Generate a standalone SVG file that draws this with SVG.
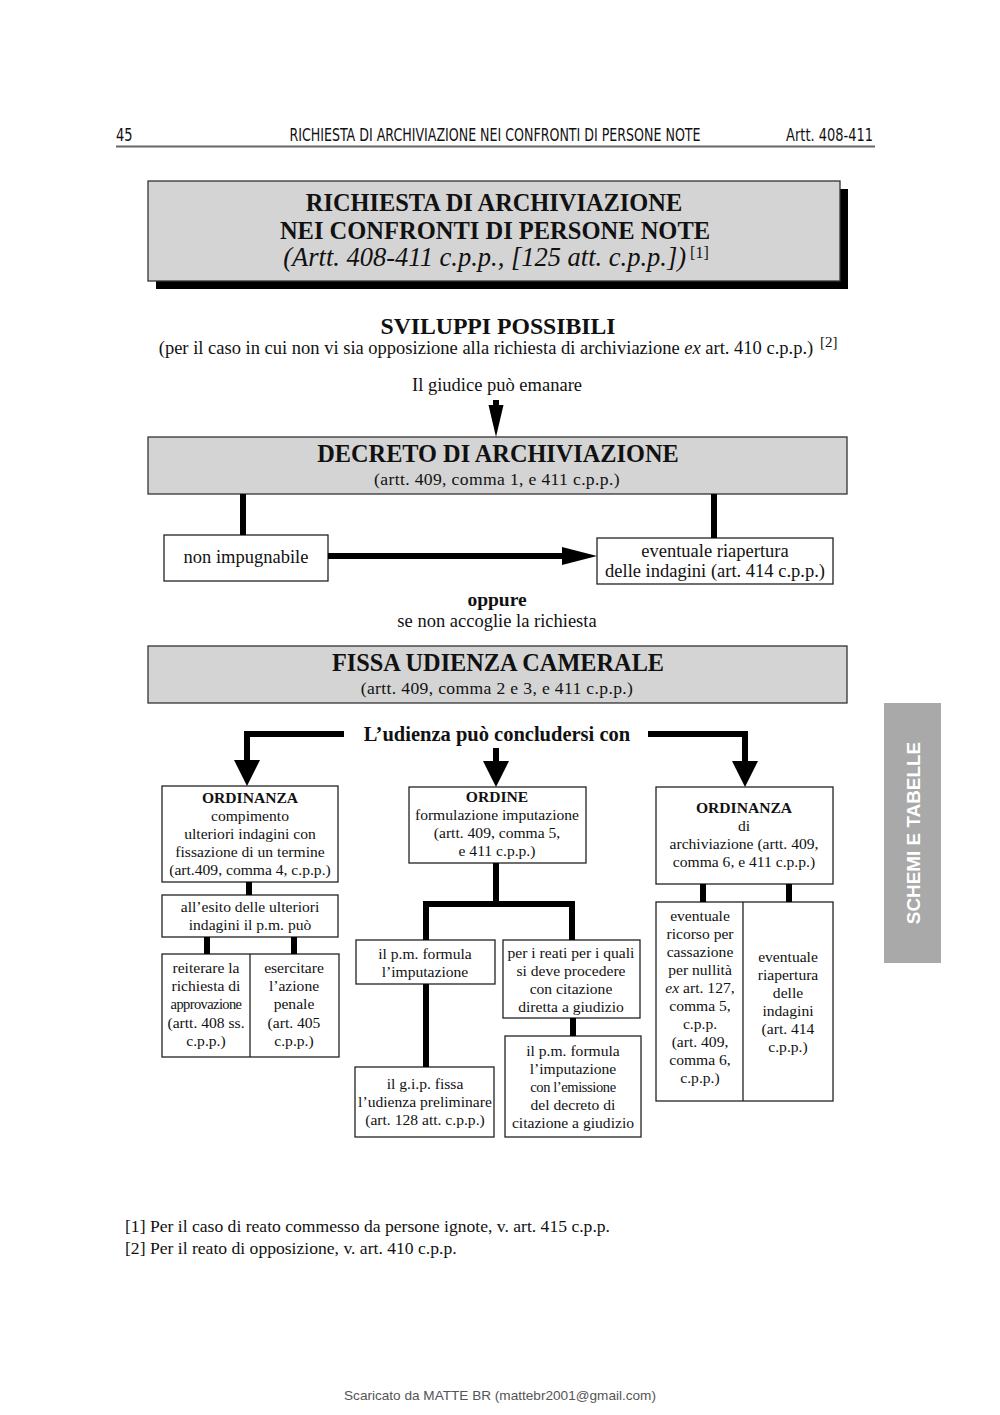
<svg xmlns="http://www.w3.org/2000/svg" width="1000" height="1415" viewBox="0 0 1000 1415">
<style>
.s{font-family:"Liberation Serif","DejaVu Serif",serif;fill:#111}
.t{font-size:15.6px}
.m{font-size:18.5px}
.sub{font-size:17.6px;letter-spacing:0.35px}
.c{text-anchor:middle}
.b{font-weight:bold}
.h{font-size:24.3px;font-weight:bold}
.box{fill:#fff;stroke:#222;stroke-width:1.3}
.gbox{fill:#d4d4d4;stroke:#333;stroke-width:1.3}
.ln{stroke:#000;stroke-width:6;fill:none}
.ah{fill:#000}
.hd{font-family:"DejaVu Sans Condensed","DejaVu Sans",sans-serif;font-stretch:condensed;font-size:17px;fill:#111}
</style>
<rect width="1000" height="1415" fill="#fff"/>
<g id="header">
<text class="hd" x="116" y="141" transform="translate(116 141) scale(0.85 1) translate(-116 -141)">45</text>
<text class="hd c" x="495" y="141" transform="translate(495 141) scale(0.826 1) translate(-495 -141)">RICHIESTA DI ARCHIVIAZIONE NEI CONFRONTI DI PERSONE NOTE</text>
<text class="hd" x="873" y="141" text-anchor="end" transform="translate(873 141) scale(0.85 1) translate(-873 -141)">Artt. 408-411</text>
<line x1="116" y1="146.5" x2="875" y2="146.5" stroke="#666" stroke-width="2"/>
</g>
<g id="title">
<rect x="156" y="189" width="692" height="100" fill="#000"/>
<rect x="148" y="181" width="692" height="100" class="gbox"/>
<text class="s c b" x="494" y="211" font-size="24.4">RICHIESTA DI ARCHIVIAZIONE</text>
<text class="s c b" x="495" y="239" font-size="24.5">NEI CONFRONTI DI PERSONE NOTE</text>
<text class="s c" x="496" y="266" font-size="26.5" font-style="italic">(Artt. 408-411 c.p.p., [125 att. c.p.p.])<tspan font-style="normal" font-size="16" dy="-8"> [1]</tspan></text>
</g>
<g id="sviluppi">
<text class="s c b" x="498" y="334" font-size="23.7">SVILUPPI POSSIBILI</text>
<text class="s c m" x="486" y="354">(per il caso in cui non vi sia opposizione alla richiesta di archiviazione <tspan font-style="italic">ex</tspan> art. 410 c.p.p.)</text>
<text class="s" x="820" y="347" font-size="15">[2]</text>
<text class="s c m" x="497" y="391">Il giudice può emanare</text>
</g>
<g id="decreto">
<rect x="148" y="437" width="699" height="57" class="gbox"/>
<text class="s c h" x="498" y="462">DECRETO DI ARCHIVIAZIONE</text>
<text class="s c sub" x="497" y="485">(artt. 409, comma 1, e 411 c.p.p.)</text>
</g>
<g id="non-impugnabile">
<rect x="164" y="535" width="164" height="46" class="box"/>
<text class="s c m" x="246" y="563">non impugnabile</text>
</g>
<g id="riapertura">
<rect x="597" y="538" width="236" height="46" class="box"/>
<text class="s c m" x="715" y="557">eventuale riapertura</text>
<text class="s c m" x="715" y="577">delle indagini (art. 414 c.p.p.)</text>
</g>
<g id="oppure">
<text class="s c b" x="497" y="606" font-size="19.5">oppure</text>
<text class="s c m" x="497" y="627">se non accoglie la richiesta</text>
</g>
<g id="fissa">
<rect x="148" y="646" width="699" height="57" class="gbox"/>
<text class="s c h" x="498" y="671">FISSA UDIENZA CAMERALE</text>
<text class="s c sub" x="497" y="694">(artt. 409, comma 2 e 3, e 411 c.p.p.)</text>
</g>
<g id="udienza-label">
<text class="s c b" x="497" y="741" font-size="20.5">L’udienza può concludersi con</text>
</g>
<g id="ordinanza-indagini">
<rect x="162" y="786" width="176" height="96" class="box"/>
<text class="s c b" x="250" y="803" font-size="15.6">ORDINANZA</text>
<text class="s c t" x="250" y="821">compimento</text>
<text class="s c t" x="250" y="839">ulteriori indagini con</text>
<text class="s c t" x="250" y="857">fissazione di un termine</text>
<text class="s c t" x="250" y="875">(art.409, comma 4, c.p.p.)</text>
</g>
<g id="esito">
<rect x="162" y="895" width="176" height="42" class="box"/>
<text class="s c t" x="250" y="912">all’esito delle ulteriori</text>
<text class="s c t" x="250" y="930">indagini il p.m. può</text>
</g>
<g id="reiterare-esercitare">
<rect x="162" y="954" width="177" height="103" class="box"/>
<line x1="250" y1="954" x2="250" y2="1057" stroke="#222" stroke-width="1.3"/>
<text class="s c t" x="206" y="973">reiterare la</text>
<text class="s c t" x="206" y="991">richiesta di</text>
<text class="s c" x="206" y="1009" font-size="14.5" letter-spacing="-0.6">approvazione</text>
<text class="s c t" x="206" y="1028">(artt. 408 ss.</text>
<text class="s c t" x="206" y="1046">c.p.p.)</text>
<text class="s c t" x="294" y="973">esercitare</text>
<text class="s c t" x="294" y="991">l’azione</text>
<text class="s c t" x="294" y="1009">penale</text>
<text class="s c t" x="294" y="1028">(art. 405</text>
<text class="s c t" x="294" y="1046">c.p.p.)</text>
</g>
<g id="ordine">
<rect x="409" y="787" width="177" height="76" class="box"/>
<text class="s c b" x="497" y="802" font-size="15.6">ORDINE</text>
<text class="s c t" x="497" y="820">formulazione imputazione</text>
<text class="s c t" x="497" y="838">(artt. 409, comma 5,</text>
<text class="s c t" x="497" y="856">e 411 c.p.p.)</text>
</g>
<g id="pm-formula">
<rect x="356" y="940" width="139" height="44" class="box"/>
<text class="s c t" x="425" y="959">il p.m. formula</text>
<text class="s c t" x="425" y="977">l’imputazione</text>
</g>
<g id="gip">
<rect x="355" y="1067" width="139" height="70" class="box"/>
<text class="s c t" x="425" y="1089">il g.i.p. fissa</text>
<text class="s c t" x="425" y="1107">l’udienza preliminare</text>
<text class="s c t" x="425" y="1125">(art. 128 att. c.p.p.)</text>
</g>
<g id="reati">
<rect x="503" y="940" width="137" height="78" class="box"/>
<text class="s c t" x="571" y="958">per i reati per i quali</text>
<text class="s c t" x="571" y="976">si deve procedere</text>
<text class="s c t" x="571" y="994">con citazione</text>
<text class="s c t" x="571" y="1012">diretta a giudizio</text>
</g>
<g id="pm-emissione">
<rect x="505" y="1036" width="136" height="101" class="box"/>
<text class="s c t" x="573" y="1056">il p.m. formula</text>
<text class="s c t" x="573" y="1074">l’imputazione</text>
<text class="s c" x="573" y="1092" font-size="14.5" letter-spacing="-0.4">con l’emissione</text>
<text class="s c t" x="573" y="1110">del decreto di</text>
<text class="s c t" x="573" y="1128">citazione a giudizio</text>
</g>
<g id="ordinanza-archiviazione">
<rect x="656" y="787" width="177" height="97" class="box"/>
<text class="s c b" x="744" y="813" font-size="15.6">ORDINANZA</text>
<text class="s c t" x="744" y="831">di</text>
<text class="s c t" x="744" y="849">archiviazione (artt. 409,</text>
<text class="s c t" x="744" y="867">comma 6, e 411 c.p.p.)</text>
</g>
<g id="ricorso-riapertura">
<rect x="656" y="902" width="177" height="199" class="box"/>
<line x1="743" y1="902" x2="743" y2="1101" stroke="#222" stroke-width="1.3"/>
<text class="s c t" x="700" y="921">eventuale</text>
<text class="s c t" x="700" y="939">ricorso per</text>
<text class="s c t" x="700" y="957">cassazione</text>
<text class="s c t" x="700" y="975">per nullità</text>
<text class="s c t" x="700" y="993"><tspan font-style="italic">ex</tspan> art. 127,</text>
<text class="s c t" x="700" y="1011">comma 5,</text>
<text class="s c t" x="700" y="1029">c.p.p.</text>
<text class="s c t" x="700" y="1047">(art. 409,</text>
<text class="s c t" x="700" y="1065">comma 6,</text>
<text class="s c t" x="700" y="1083">c.p.p.)</text>
<text class="s c t" x="788" y="962">eventuale</text>
<text class="s c t" x="788" y="980">riapertura</text>
<text class="s c t" x="788" y="998">delle</text>
<text class="s c t" x="788" y="1016">indagini</text>
<text class="s c t" x="788" y="1034">(art. 414</text>
<text class="s c t" x="788" y="1052">c.p.p.)</text>
</g>
<g id="connectors">
<line class="ln" x1="496" y1="400" x2="496" y2="412" stroke-width="5"/>
<polygon class="ah" points="488.5,405 503.5,405 496,437"/>
<line class="ln" x1="243" y1="494" x2="243" y2="535"/>
<line class="ln" x1="714" y1="494" x2="714" y2="538"/>
<line class="ln" x1="328" y1="556" x2="566" y2="556" stroke-width="7"/>
<polygon class="ah" points="562,547 597,556 562,565"/>
<polyline class="ln" points="344,734 247,734 247,765" stroke-width="7"/>
<polygon class="ah" points="234,760 260,760 247,786"/>
<line class="ln" x1="496" y1="748" x2="496" y2="765" stroke-width="7"/>
<polygon class="ah" points="483,761 509,761 496,787"/>
<polyline class="ln" points="648,734 745,734 745,765" stroke-width="7"/>
<polygon class="ah" points="732,761 758,761 745,787"/>
<line class="ln" x1="249" y1="882" x2="249" y2="895" stroke-width="7"/>
<line class="ln" x1="207" y1="937" x2="207" y2="954" stroke-width="7"/>
<line class="ln" x1="294" y1="937" x2="294" y2="954" stroke-width="7"/>
<polyline class="ln" points="496,863 496,904 426,904 426,940" stroke-width="7"/>
<polyline class="ln" points="496,904 572,904 572,940" stroke-width="7"/>
<line class="ln" x1="426" y1="984" x2="426" y2="1067" stroke-width="7"/>
<line class="ln" x1="573" y1="1018" x2="573" y2="1036" stroke-width="7"/>
<line class="ln" x1="703" y1="884" x2="703" y2="902" stroke-width="7"/>
<line class="ln" x1="789" y1="884" x2="789" y2="902" stroke-width="7"/>
</g>
<g id="side-tab">
<rect x="884" y="703" width="57" height="260" fill="#a9a9a9"/>
<text x="0" y="0" transform="translate(919.5 833) rotate(-90)" text-anchor="middle" font-family="'Liberation Sans',Arial,sans-serif" font-weight="bold" font-size="18.9" fill="#fff">SCHEMI E TABELLE</text>
</g>
<g id="footnotes">
<text class="s" x="125" y="1232" font-size="17.6">[1] Per il caso di reato commesso da persone ignote, v. art. 415 c.p.p.</text>
<text class="s" x="125" y="1254" font-size="17.6">[2] Per il reato di opposizione, v. art. 410 c.p.p.</text>
</g>
<g id="footer">
<text x="500" y="1400" text-anchor="middle" font-family="'Liberation Sans',Arial,sans-serif" font-size="13.6" fill="#555">Scaricato da MATTE BR (mattebr2001@gmail.com)</text>
</g>
</svg>
